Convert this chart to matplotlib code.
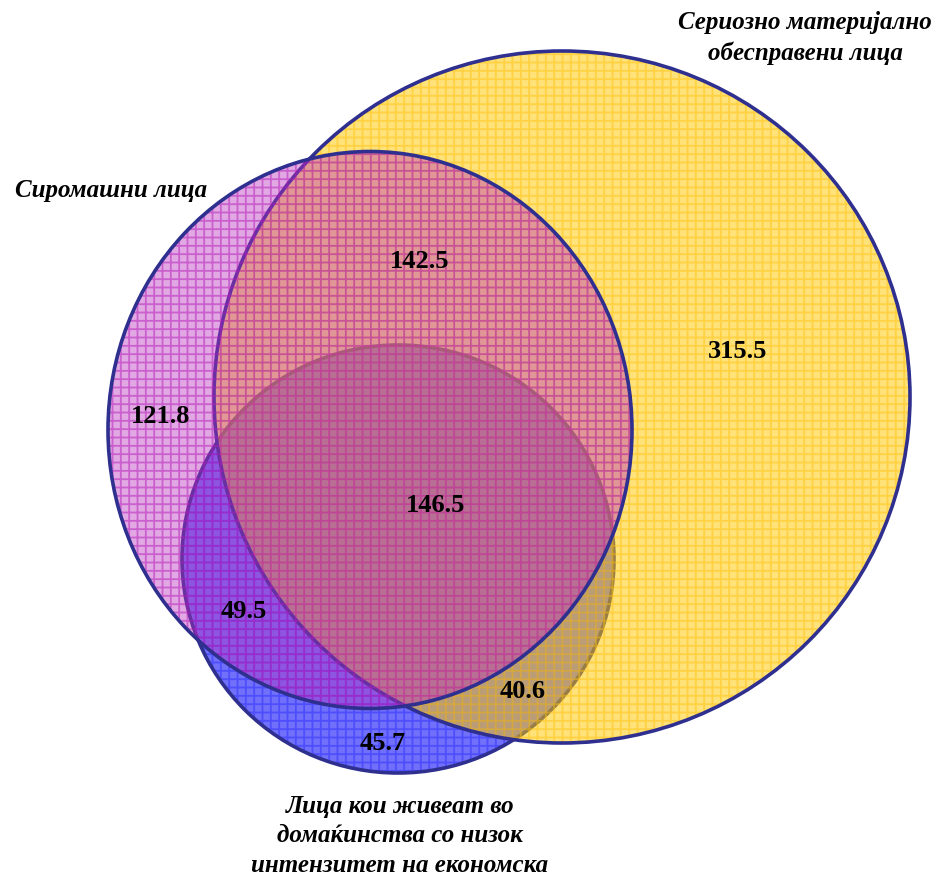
import matplotlib
matplotlib.use("Agg")
import matplotlib.pyplot as plt
from matplotlib.patches import Ellipse

# ---- data ----
set_names = ["Сериозно материјално\nобесправени лица",
             "Сиромашни лица",
             "Лица кои живеат во\nдомаќинства со низок\nинтензитет на економска"]
region_names = ["only_poor", "poor_deprived", "only_deprived", "all_three",
                "poor_lowwork", "deprived_lowwork", "only_lowwork"]
region_values = [121.8, 142.5, 315.5, 146.5, 49.5, 40.6, 45.7]

# ---- layout (pixel coordinates, y downward) ----
W, H = 944, 878
region_pos = [(161, 417), (420, 262), (738, 352), (436, 506),
              (244, 612), (523, 692), (383, 744)]
# (cx, cy, width, height)
shape_yellow = (562, 398, 696, 692)
shape_pink = (370, 431, 524, 557)
shape_blue = (398, 560, 432, 428)
name_pos = [(805, 38), (111, 190), (400, 836)]

outline = "#2E2F8F"
plt.rcParams["hatch.linewidth"] = 1.3

fig = plt.figure(figsize=(W / 100, H / 100), dpi=100)
ax = fig.add_axes([0, 0, 1, 1])
ax.set_xlim(0, W)
ax.set_ylim(H, 0)
ax.set_aspect("equal")
ax.axis("off")


def draw(shape, face, face_alpha, hatch_rgba, z):
    cx, cy, w, h = shape
    ax.add_patch(Ellipse((cx, cy), w, h, facecolor=face, alpha=face_alpha,
                         edgecolor="none", zorder=z))
    ax.add_patch(Ellipse((cx, cy), w, h, facecolor="none",
                         edgecolor=hatch_rgba, hatch="++", linewidth=0,
                         zorder=z + 0.1))
    ax.add_patch(Ellipse((cx, cy), w, h, facecolor="none",
                         edgecolor=outline, linewidth=2.6, zorder=z + 0.2))


# blue first (below), then yellow, then pink
draw(shape_blue, "#7070FA", 1.0, (0.2, 0.2, 1.0, 0.55), 1)
draw(shape_yellow, "#FFC800", 0.52, (1.0, 0.76, 0.05, 0.5), 2)
draw(shape_pink, "#B830BE", 0.42, (0.70, 0.10, 0.72, 0.5), 3)

for v, (x, y) in zip(region_values, region_pos):
    ax.text(x, y, f"{v:.1f}", ha="center", va="center", fontsize=19,
            family="Liberation Serif", fontweight="bold", color="black",
            zorder=10)

label_kw = dict(family="Liberation Serif", fontweight="bold", style="italic",
                fontsize=18, color="black", ha="center", va="center",
                linespacing=1.38, zorder=10)
ax.text(*name_pos[0], set_names[0], **label_kw)
ax.text(*name_pos[1], set_names[1], **label_kw)
ax.text(*name_pos[2], set_names[2], **label_kw)

fig.savefig("out.png", dpi=100)
